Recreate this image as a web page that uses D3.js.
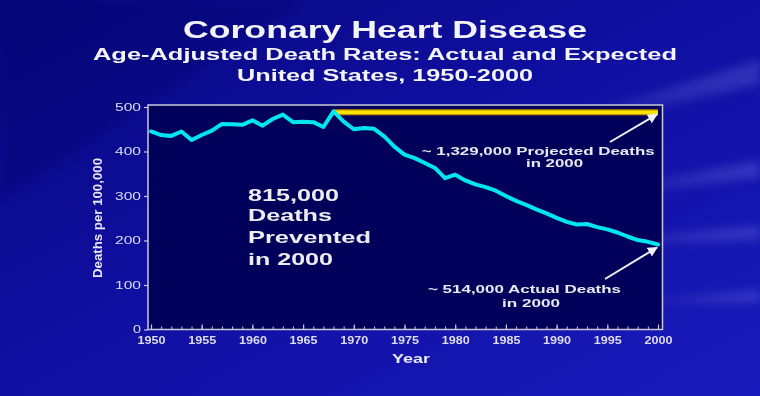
<!DOCTYPE html>
<html>
<head>
<meta charset="utf-8">
<script src="https://cdn.jsdelivr.net/npm/d3@7"></script>
<style>
  html, body { margin: 0; padding: 0; background: #0e0e98; }
  svg { display: block; }
  text { font-family: "Liberation Sans", Arial, sans-serif; }
</style>
</head>
<body>
<svg id="chart" width="760" height="396"></svg>
<script>
// ---- data ----
const years = d3.range(1950, 2001);
const actualRates = [445, 437, 435, 445, 426, 437, 447, 462, 461, 460,
                     470, 458, 473, 483, 466, 467, 466, 455, 490, 467,
                     450, 453, 451, 434, 411, 393, 385, 374, 363, 340,
                     348, 335, 326, 320, 312, 300, 289, 280, 270, 261,
                     251, 242, 236, 237, 230, 225, 218, 209, 201, 197, 191];
const expectedYears = [1968, 2000];
const expectedRates = [488, 488];
const xTickValues = [1950, 1955, 1960, 1965, 1970, 1975, 1980, 1985, 1990, 1995, 2000];
const yTickValues = [0, 100, 200, 300, 400, 500];
const titleLines = ["Coronary Heart Disease",
                    "Age-Adjusted Death Rates: Actual and Expected",
                    "United States, 1950-2000"];
const preventedLines = ["815,000", "Deaths", "Prevented", "in 2000"];
const projectedLines = ["~ 1,329,000 Projected Deaths", "in 2000"];
const actualLines = ["~ 514,000 Actual Deaths", "in 2000"];

const svg = d3.select("#chart");
const W = 760, H = 396;

// ---- background ----
const defs = svg.append("defs");
const bg = defs.append("linearGradient").attr("id", "bg")
  .attr("x1", "0").attr("y1", "0").attr("x2", "1").attr("y2", "1");
bg.append("stop").attr("offset", "0").attr("stop-color", "#08087e");
bg.append("stop").attr("offset", "0.45").attr("stop-color", "#0f0fa0");
bg.append("stop").attr("offset", "1").attr("stop-color", "#1a1abc");
svg.append("rect").attr("width", W).attr("height", H).attr("fill", "url(#bg)");

defs.append("filter").attr("id", "soft").attr("x", "-20%").attr("y", "-50%")
  .attr("width", "140%").attr("height", "200%")
  .append("feGaussianBlur").attr("stdDeviation", 4);
defs.append("filter").attr("id", "slight")
  .append("feGaussianBlur").attr("stdDeviation", 0.45);

const streak = defs.append("linearGradient").attr("id", "streak")
  .attr("x1", "0").attr("y1", "0").attr("x2", "1").attr("y2", "0");
streak.append("stop").attr("offset", "0").attr("stop-color", "#ffffff").attr("stop-opacity", 0);
streak.append("stop").attr("offset", "1").attr("stop-color", "#9aa0ff").attr("stop-opacity", 0.22);

const streaks = [
  [[560, 120], [760, 60], [760, 84], [560, 128]],
  [[600, 190], [760, 160], [760, 178], [600, 196]],
  [[600, 240], [760, 225], [760, 240], [600, 246]],
  [[640, 300], [760, 290], [760, 302], [640, 305]]
];
svg.append("g").attr("filter", "url(#soft)")
  .selectAll("path").data(streaks).join("path")
  .attr("d", d => "M" + d.join("L") + "Z")
  .attr("fill", "url(#streak)");

// darker diagonal band at top
svg.append("path")
  .attr("d", "M0,0 L300,0 L80,150 L0,200 Z")
  .attr("fill", "#000060").attr("opacity", 0.22).attr("filter", "url(#soft)");

const root = svg.append("g").attr("filter", "url(#slight)");

// ---- scales ----
const x = d3.scaleLinear().domain([1950, 2000]).range([151, 658]);
const y = d3.scaleLinear().domain([0, 500]).range([329.5, 107]);

const boxL = 148, boxR = 662.5, boxT = 105, boxB = 329.5;
root.append("rect")
  .attr("x", boxL).attr("y", boxT)
  .attr("width", boxR - boxL).attr("height", boxB - boxT)
  .attr("fill", "#04045a")
  .attr("stroke", "#c8c8dc").attr("stroke-width", 1.5);

// ---- axes ----
const axisColor = "#c8c8dc";
const gxMinor = root.append("g").attr("transform", `translate(0,${boxB})`)
  .call(d3.axisBottom(x).tickValues(years).tickSize(-3).tickFormat(""));
gxMinor.select(".domain").remove();
gxMinor.selectAll("line").attr("stroke", axisColor).attr("stroke-width", 1);

const gx = root.append("g").attr("transform", `translate(0,${boxB})`)
  .call(d3.axisBottom(x).tickValues(xTickValues).tickSize(-5).tickPadding(7).tickFormat(d3.format("d")));
gx.select(".domain").remove();
gx.selectAll("line").attr("stroke", axisColor).attr("stroke-width", 1.2);
gx.selectAll("text")
  .attr("fill", "#dcdcec").attr("font-size", 10.5).attr("font-weight", "bold")
  .attr("textLength", 28).attr("lengthAdjust", "spacingAndGlyphs");

const gy = root.append("g").attr("transform", `translate(${boxL},0)`)
  .call(d3.axisLeft(y).tickValues(yTickValues).tickSize(4).tickPadding(3));
gy.select(".domain").remove();
gy.selectAll("line").attr("stroke", axisColor).attr("stroke-width", 1.2);
gy.selectAll("text")
  .attr("fill", "#dcdcec").attr("font-size", 10.5)
  .attr("textLength", d => d === 0 ? 8 : 26).attr("lengthAdjust", "spacingAndGlyphs");

// axis titles
root.append("text")
  .attr("transform", "translate(102,218) rotate(-90)")
  .attr("x", -60).attr("y", 0)
  .attr("fill", "#e8e8f4").attr("font-size", 12).attr("font-weight", "bold")
  .attr("textLength", 120).attr("lengthAdjust", "spacingAndGlyphs")
  .text("Deaths per 100,000");

root.append("text")
  .attr("x", 392).attr("y", 362.5)
  .attr("fill", "#e8e8f4").attr("font-size", 13).attr("font-weight", "bold")
  .attr("textLength", 38).attr("lengthAdjust", "spacingAndGlyphs")
  .text("Year");

// ---- lines ----
const line = d3.line().x(d => x(d[0])).y(d => y(d[1]));
const expected = expectedYears.map((yr, i) => [yr, expectedRates[i]]);
root.append("path").datum(expected).attr("d", line)
  .attr("fill", "none").attr("stroke", "#c88a00").attr("stroke-width", 6);
root.append("path").datum(expected).attr("d", line)
  .attr("fill", "none").attr("stroke", "#f8e600").attr("stroke-width", 3.5);

const actual = years.map((yr, i) => [yr, actualRates[i]]);
root.append("path").datum(actual).attr("d", line)
  .attr("fill", "none").attr("stroke", "#00e6f0").attr("stroke-width", 4)
  .attr("stroke-linejoin", "round").attr("stroke-linecap", "round");

// ---- titles ----
const titleSpecs = [
  { x: 183, y: 38, size: 24, len: 404 },
  { x: 93, y: 60, size: 16.5, len: 584 },
  { x: 237, y: 81, size: 16.5, len: 296 }
];
root.append("g").selectAll("text").data(titleLines).join("text")
  .attr("x", (d, i) => titleSpecs[i].x).attr("y", (d, i) => titleSpecs[i].y)
  .attr("font-size", (d, i) => titleSpecs[i].size).attr("font-weight", "bold")
  .attr("fill", "#f4f4f8")
  .attr("textLength", (d, i) => titleSpecs[i].len).attr("lengthAdjust", "spacingAndGlyphs")
  .text(d => d);

// ---- annotations ----
const prevSpecs = [
  { y: 200.7, len: 91 }, { y: 221, len: 84 }, { y: 243, len: 123 }, { y: 264.5, len: 85 }
];
root.append("g").selectAll("text").data(preventedLines).join("text")
  .attr("x", 248).attr("y", (d, i) => prevSpecs[i].y)
  .attr("font-size", 17).attr("font-weight", "bold").attr("fill", "#ececf2")
  .attr("textLength", (d, i) => prevSpecs[i].len).attr("lengthAdjust", "spacingAndGlyphs")
  .text(d => d);

const projSpecs = [{ x: 421.7, y: 155, len: 233 }, { x: 526, y: 167.3, len: 57 }];
root.append("g").selectAll("text").data(projectedLines).join("text")
  .attr("x", (d, i) => projSpecs[i].x).attr("y", (d, i) => projSpecs[i].y)
  .attr("font-size", 11.5).attr("font-weight", "bold").attr("fill", "#e8e8f0")
  .attr("textLength", (d, i) => projSpecs[i].len).attr("lengthAdjust", "spacingAndGlyphs")
  .text(d => d);

const actSpecs = [{ x: 428, y: 292.5, len: 193 }, { x: 502, y: 306.5, len: 58 }];
root.append("g").selectAll("text").data(actualLines).join("text")
  .attr("x", (d, i) => actSpecs[i].x).attr("y", (d, i) => actSpecs[i].y)
  .attr("font-size", 11.5).attr("font-weight", "bold").attr("fill", "#e8e8f0")
  .attr("textLength", (d, i) => actSpecs[i].len).attr("lengthAdjust", "spacingAndGlyphs")
  .text(d => d);

// arrows
defs.append("marker").attr("id", "arrow")
  .attr("viewBox", "0 0 10 10").attr("refX", 9).attr("refY", 5)
  .attr("markerWidth", 5).attr("markerHeight", 5).attr("orient", "auto")
  .append("path").attr("d", "M0,0 L10,5 L0,10 Z").attr("fill", "#f0f0f8");

const arrows = [
  { x1: 610, y1: 142, x2: x(2000) - 1, y2: y(488) + 2 },
  { x1: 605, y1: 279, x2: x(2000) - 1, y2: y(191) + 3 }
];
root.append("g").selectAll("line").data(arrows).join("line")
  .attr("x1", d => d.x1).attr("y1", d => d.y1)
  .attr("x2", d => d.x2).attr("y2", d => d.y2)
  .attr("stroke", "#f0f0f8").attr("stroke-width", 2)
  .attr("marker-end", "url(#arrow)");
</script>
</body>
</html>
